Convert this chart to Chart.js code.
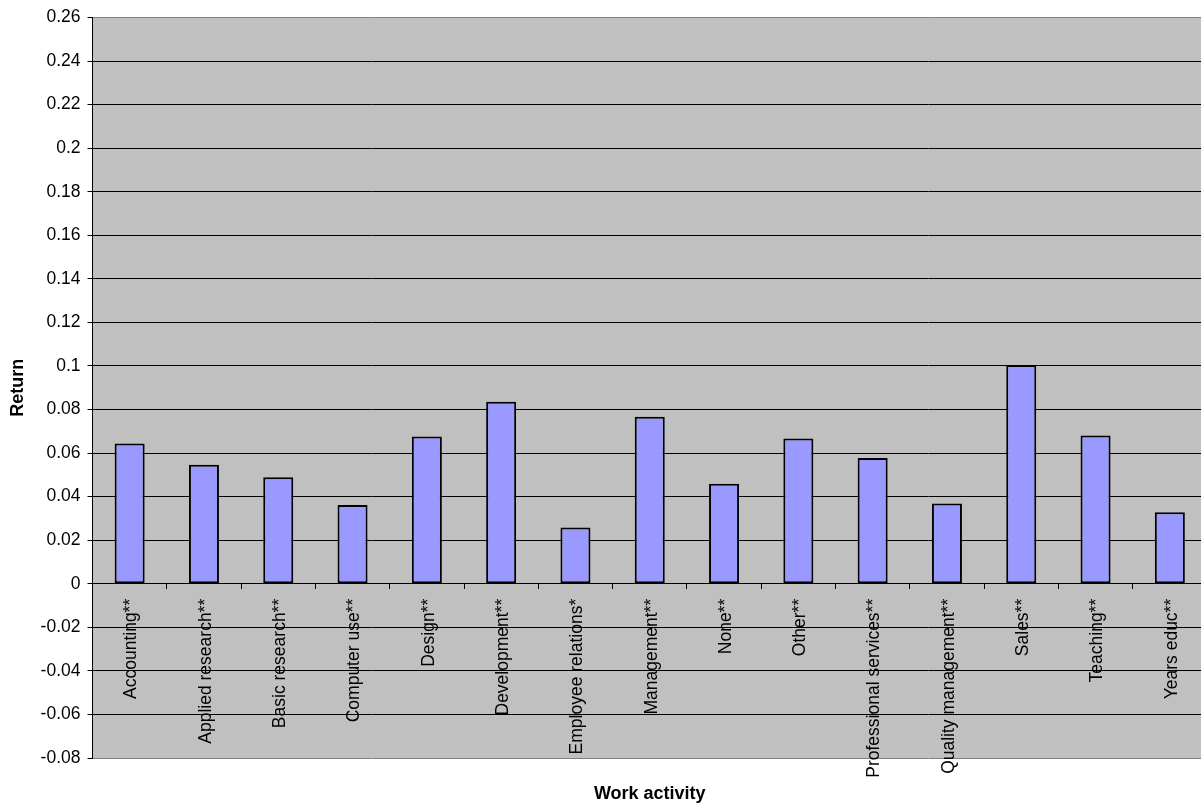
<!DOCTYPE html>
<html>
<head>
<meta charset="utf-8">
<title>Return by work activity</title>
<script src="https://cdn.jsdelivr.net/npm/chart.js@4.4.1/dist/chart.umd.min.js"></script>
<style>
  html, body { margin: 0; padding: 0; background: #fff; overflow: hidden; }
  #wrap { width: 1207px; height: 806px; }
</style>
</head>
<body>
<div id="wrap"><canvas id="chart" width="1207" height="806"></canvas></div>
<script>
var activities = [
  "Accounting**", "Applied research**", "Basic research**", "Computer use**",
  "Design**", "Development**", "Employee relations*", "Management**",
  "None**", "Other**", "Professional services**", "Quality management**",
  "Sales**", "Teaching**", "Years educ**"
];
var returns = [
  0.0644, 0.0547, 0.0489, 0.0362,
  0.0676, 0.0836, 0.0258, 0.0767,
  0.0459, 0.0667, 0.0578, 0.0369,
  0.1005, 0.0681, 0.0328
];
var yMin = -0.08;
var yMax = 0.26;
var yStep = 0.02;
var xTitle = "Work activity";
var yTitle = "Return";

var FONT = "'Liberation Sans', Arial, sans-serif";

// grey plot area plus the x title under it
var plotBg = {
  id: "plotBg",
  beforeDraw: function (chart) {
    var a = chart.chartArea;
    var ctx = chart.ctx;
    ctx.save();
    ctx.fillStyle = "#c0c0c0";
    ctx.fillRect(a.left, a.top, a.right - a.left, a.bottom - a.top);
    ctx.restore();
  },
  afterDraw: function (chart) {
    var a = chart.chartArea;
    var ctx = chart.ctx;
    ctx.save();
    ctx.font = "bold 18px " + FONT;
    ctx.fillStyle = "#000";
    ctx.textAlign = "center";
    ctx.textBaseline = "middle";
    ctx.fillText(xTitle, (a.left + a.right) / 2, 794);
    ctx.restore();
  }
};

function isEdge(v) {
  return Math.abs(v - yMin) < 1e-9 || Math.abs(v - yMax) < 1e-9;
}

new Chart(document.getElementById("chart"), {
  type: "bar",
  data: {
    labels: activities,
    datasets: [{
      label: "Return",
      data: returns,
      backgroundColor: "#9999ff",
      borderColor: "#000",
      borderWidth: 2,
      borderSkipped: false,
      barPercentage: 0.404,
      categoryPercentage: 1
    }]
  },
  options: {
    responsive: false,
    animation: false,
    layout: { padding: { top: 15, bottom: 48, left: 0, right: 0 } },
    plugins: {
      legend: { display: false },
      tooltip: { enabled: false }
    },
    scales: {
      x: {
        type: "category",
        position: { y: 0 },
        afterFit: function (s) { s.height = 0; },
        grid: {
          offset: true,
          drawOnChartArea: false,
          drawTicks: true,
          tickLength: 5,
          color: "#000"
        },
        border: { display: true, color: "#000", width: 1 },
        ticks: {
          autoSkip: false,
          minRotation: 90,
          maxRotation: 90,
          padding: 10,
          labelOffset: 2,
          color: "#000",
          font: { family: FONT, size: 17.5 }
        }
      },
      y: {
        min: yMin,
        max: yMax,
        afterFit: function (s) { s.width = 92.5; },
        grid: {
          color: function (c) { return isEdge(c.tick.value) ? "#808080" : "#000"; },
          lineWidth: 1,
          tickLength: 5,
          tickColor: "#000"
        },
        border: { display: true, color: "#000", width: 1 },
        ticks: {
          stepSize: yStep,
          padding: 7,
          color: "#000",
          font: { family: FONT, size: 17.5 },
          callback: function (v) {
            return String(parseFloat(Number(v).toFixed(2)));
          }
        },
        title: {
          display: true,
          text: yTitle,
          color: "#000",
          font: { family: FONT, size: 18, weight: "bold" },
          padding: { top: 7, bottom: 0 }
        }
      }
    }
  },
  plugins: [plotBg]
});
</script>
</body>
</html>
